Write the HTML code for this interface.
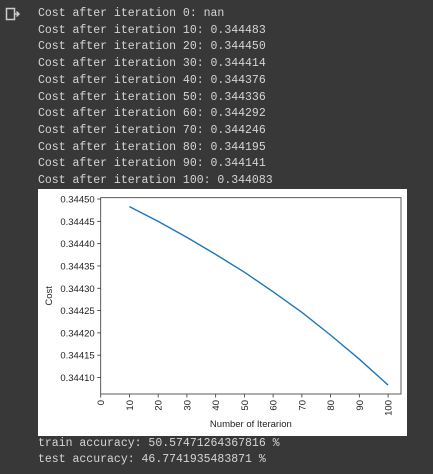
<!DOCTYPE html>
<html><head><meta charset="utf-8"><style>
body{margin:0;width:433px;height:474px;background:#383838;overflow:hidden;position:relative;font-family:"Liberation Mono",monospace;}
.out{position:absolute;left:38px;top:6px;font-size:11.5px;line-height:16.7px;color:#d5d5d5;white-space:pre;}
.acc{position:absolute;left:38px;top:436px;font-size:11.5px;line-height:16px;color:#d5d5d5;white-space:pre;}
#panel{position:absolute;left:38px;top:189px;width:369px;height:247px;background:#fff;}
</style></head><body>
<svg style="position:absolute;left:5px;top:7px" width="16" height="16"><rect x="1.5" y="1.5" width="8" height="11" fill="none" stroke="#ccc" stroke-width="1.5"/><path d="M9 7 L14 7 M11.5 4.5 L14 7 L11.5 9.5" stroke="#ccc" stroke-width="1.5" fill="none"/></svg>
<div class="out">Cost after iteration 0: nan
Cost after iteration 10: 0.344483
Cost after iteration 20: 0.344450
Cost after iteration 30: 0.344414
Cost after iteration 40: 0.344376
Cost after iteration 50: 0.344336
Cost after iteration 60: 0.344292
Cost after iteration 70: 0.344246
Cost after iteration 80: 0.344195
Cost after iteration 90: 0.344141
Cost after iteration 100: 0.344083</div>
<div id="panel"></div>
<svg id="chart" style="position:absolute;left:0;top:0" width="433" height="474"></svg>
<div class="acc">train accuracy: 50.57471264367816 %
test accuracy: 46.7741935483871 %</div>
<script>
const iterations=[10,20,30,40,50,60,70,80,90,100];
const costs=[0.344483,0.344450,0.344414,0.344376,0.344336,0.344292,0.344246,0.344195,0.344141,0.344083];
const yTicks=[0.34410,0.34415,0.34420,0.34425,0.34430,0.34435,0.34440,0.34445,0.34450];
const xTicks=[0,10,20,30,40,50,60,70,80,90,100];
const L=100.7,R=401,T=197.7,B=394;
const xMin=0,xMax=104.5,yMin=0.344063,yMax=0.344503;
const xs=v=>L+(v-xMin)/(xMax-xMin)*(R-L);
const ys=v=>B-(v-yMin)/(yMax-yMin)*(B-T);
const svg=document.getElementById('chart');const NS='http://www.w3.org/2000/svg';
function mk(t,a){const e=document.createElementNS(NS,t);for(const k in a)e.setAttribute(k,a[k]);svg.appendChild(e);return e;}
const frame=mk('rect',{x:L,y:T,width:R-L,height:B-T,fill:'none',stroke:'#333','stroke-width':0.8});


yTicks.forEach(v=>{const y=ys(v);
const tk=mk('line',{x1:L-3.5,x2:L,y1:y,y2:y,stroke:'#333','stroke-width':0.8});


const t=mk('text',{x:L-6,y:y+3.5,'text-anchor':'end','font-size':'9.5','font-family':'Liberation Sans, sans-serif',fill:'#222'});
t.textContent=v.toFixed(5);

});
xTicks.forEach(v=>{const x=xs(v);
const tk=mk('line',{x1:x,x2:x,y1:B,y2:B+3.5,stroke:'#333','stroke-width':0.8});


const t=mk('text',{x:0,y:0,'text-anchor':'end','font-size':'9.5','font-family':'Liberation Sans, sans-serif',fill:'#222',transform:`translate(${x+3.5},${B+6}) rotate(-90)`});
t.textContent=v;

});
const line=mk('polyline',{points:iterations.map((v,i)=>xs(v)+','+ys(costs[i])).join(' '),fill:'none',stroke:'#1f77b4','stroke-width':1.4});


const xl=mk('text',{x:(L+R)/2,y:427,'text-anchor':'middle','font-size':'9.5','font-family':'Liberation Sans, sans-serif',fill:'#222'});
xl.textContent='Number of Iterarion';


const yl=mk('text',{x:0,y:0,'text-anchor':'middle','font-size':'9.5','font-family':'Liberation Sans, sans-serif',fill:'#222',transform:`translate(52,${(T+B)/2}) rotate(-90)`});
yl.textContent='Cost';


</script>
</body></html>
